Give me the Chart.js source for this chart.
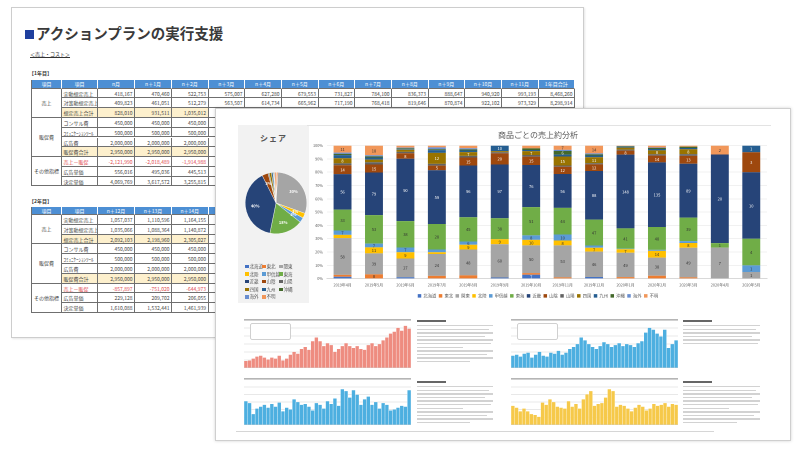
<!DOCTYPE html>
<html lang="ja"><head><meta charset="utf-8">
<script src="https://cdn.jsdelivr.net/npm/chart.js@4.4.1/dist/chart.umd.min.js"></script>
<style>
*{box-sizing:border-box}
html,body{margin:0;padding:0;width:800px;height:449px;overflow:hidden;background:#fff;font-family:"Noto Sans CJK JP","Noto Sans",sans-serif;color:#333}
.abs{position:absolute}
#sheet{left:11px;top:7px;width:573px;height:331px;border:1px solid #cdcdcd;background:#fff;box-shadow:1px 1px 2px rgba(0,0,0,.10)}
#title{left:25px;top:24px;font-size:14.5px;font-weight:bold;color:#3a3a3a;line-height:18px;white-space:nowrap}
#title .sq{display:inline-block;width:9px;height:9px;background:#1f3f9e;margin-right:2px}
.small{position:absolute;font-size:5px;line-height:6px;white-space:nowrap;color:#333}
.cell{position:absolute;font-size:5px;white-space:nowrap;overflow:hidden;border-right:0.6px solid #6f6f6f;border-bottom:0.6px solid #6f6f6f;padding:0 1.5px;color:#444}
.hdr{background:#4d8fd4;color:#fff;text-align:center;border-right-color:#ffffff}
.num{text-align:right}
.sum{background:#fdf0cd}
.red{color:#e0474c}
.grp{text-align:center}
#panel{left:215px;top:108px;width:576px;height:333px;background:#fff;border:1px solid #cfcfcf;box-shadow:0 0 3px rgba(0,0,0,.18);z-index:5}
#pieCard{left:22px;top:16px;width:71px;height:178px;background:#f2f2f2}
#pieTitle{left:0;top:7px;width:71px;text-align:center;font-size:8px;font-weight:bold;color:#555;letter-spacing:1px}
.lg{position:absolute;font-size:4.5px;line-height:5px;white-space:nowrap;color:#595959}
.lg i{display:inline-block;width:3.5px;height:3.5px;margin-right:1px;vertical-align:-0.3px}
.tline{position:absolute;height:1.4px;background:#d2d2d2}
.tline.b{background:#666;height:2px}
</style></head>
<body>
<div id="sheet" class="abs"></div>
<div id="title" class="abs"><span class="sq"></span>アクションプランの実行支援</div>
<div class="small" style="left:30px;top:51px;text-decoration:underline">＜売上・コスト＞</div>
<div class="small" style="left:29px;top:70px;font-weight:bold">【1年目】</div>
<div class="small" style="left:29px;top:198px;font-weight:bold">【2年目】</div>

<div id="panel" class="abs">
  <div id="pieCard" class="abs">
    <div id="pieTitle" class="abs">シェア</div>
    <div class="abs" style="left:6px;top:47px;width:64px;height:62px"><canvas id="pie"></canvas></div>
    <div id="pieLegend" class="abs" style="left:0;top:0;width:71px;height:178px"></div>
  </div>
  <div class="abs" style="left:91px;top:16px;width:464px;height:186px;border-top:0.8px solid #e3e3e3"><canvas id="bar"></canvas></div>
  <div class="abs" style="left:28px;top:210px;width:167px;height:49px"><canvas id="m1"></canvas></div>
  <div class="abs" style="left:295px;top:210px;width:167px;height:49px"><canvas id="m2"></canvas></div>
  <div class="abs" style="left:28px;top:269px;width:167px;height:47px"><canvas id="m3"></canvas></div>
  <div class="abs" style="left:295px;top:269px;width:167px;height:47px"><canvas id="m4"></canvas></div>
  <div class="abs" style="left:20px;top:322px;width:478px;height:0.8px;background:#d6d6d6"></div>
</div>

<script>
const FONT='"Noto Sans CJK JP","Noto Sans",sans-serif';

// ---------- sheet table data ----------
const headers1=['項目','項目','n月','n＋1月','n＋2月','n＋3月','n＋4月','n＋5月','n＋6月','n＋7月','n＋8月','n＋9月','n＋10月','n＋11月','1年目合計'];
const headers2=['項目','項目','n＋12月','n＋13月','n＋14月','n＋15月','n＋16月','n＋17月','n＋18月','n＋19月','n＋20月','n＋21月','n＋22月','n＋23月','2年目合計'];
const groups=[['売上',3],['販促費',4],['その他指標',3]];
const rowLabels=['実動想定売上','対策動想定売上','想定売上合計','コンサル費','ｺﾐｭﾆｹｰｼｮﾝﾂｰﾙ','広告費','販促費合計','売上－販促','広告単価','決定単価'];
const rowKinds=['','','sum','','','','sum','red','',''];
const y1Rows=[
 ['418,167','470,460','522,753','575,007','627,280','679,553','731,827','784,100','836,373','888,647','940,920','993,193','8,468,260'],
 ['409,823','461,051','512,279','563,507','614,734','665,962','717,190','768,418','819,646','870,874','922,102','973,329','8,298,914'],
 ['828,010','931,511','1,035,012'],
 ['450,000','450,000','450,000'],
 ['500,000','500,000','500,000'],
 ['2,000,000','2,000,000','2,000,000'],
 ['2,950,000','2,950,000','2,950,000'],
 ['-2,121,990','-2,018,489','-1,914,988'],
 ['556,016','495,036','445,513'],
 ['4,069,769','3,617,572','3,255,815']];
const y2Rows=[
 ['1,057,037','1,110,596','1,164,155'],
 ['1,035,066','1,088,364','1,140,872'],
 ['2,092,103','2,198,960','2,305,027'],
 ['450,000','450,000','450,000'],
 ['500,000','500,000','500,000'],
 ['2,000,000','2,000,000','2,000,000'],
 ['2,950,000','2,950,000','2,950,000'],
 ['-857,897','-751,020','-644,973'],
 ['229,128','209,702','206,055'],
 ['1,610,088','1,532,441','1,461,939']];

// ---------- chart data ----------
const months=['2019年4月','2019年5月','2019年6月','2019年7月','2019年8月','2019年9月','2019年10月','2019年11月','2019年12月','2020年1月','2020年2月','2020年3月','2020年4月','2020年5月'];
const regions=['北海道','東北','関東','北陸','甲信越','東海','近畿','山陰','山陽','四国','九州','沖縄','海外','不明'];
const hokkaido  =[3,0,2,0,0,2,7,0,3,0,0,0,0,0];
const tohoku    =[3,8,0,3,6,0,3,2,0,3,6,2,0,0];
const kanto     =[58,39,27,24,48,60,50,53,46,49,38,49,7,1];
const hokuriku  =[5,11,9,2,9,9,10,8,7,7,14,8,0,0];
const koshinetsu=[7,7,7,3,6,0,8,10,4,1,2,3,0,1];
const tokai     =[33,53,38,28,45,38,51,44,47,41,48,39,1,4];
const kinki     =[56,79,90,59,96,97,76,56,88,148,135,89,20,10];
const sanin     =[14,15,8,5,15,20,15,12,12,8,14,13,0,3];
const sanyo     =[3,4,2,2,3,2,3,2,2,2,3,3,0,0];
const shikoku   =[8,5,3,12,7,2,7,15,11,4,8,8,0,0];
const kyushu    =[5,4,1,3,3,10,2,3,3,2,3,2,0,1];
const okinawa   =[2,2,1,1,2,0,3,6,2,1,2,2,0,0];
const kaigai    =[2,2,1,2,2,0,0,2,2,0,1,0,0,0];
const fumei     =[11,18,3,2,5,0,5,7,14,1,4,2,2,0];
const pieShare  =[0.3,0.7,29.6,2.6,2.6,17.6,39.6,3.2,0.6,1.2,0.8,0.4,0.4,0.8];

const redSeries   =[15,16,20,24,26,22,18,22,20,26,16,20,28,34,30,40,44,38,56,64,56,46,52,48,34,40,46,52,46,42,46,40,38,48,52,46,50,58,64,72,76,84,78,88,82];
const blueSeriesA =[26,28,24,30,32,22,28,34,26,24,32,30,36,28,32,40,44,50,64,58,50,44,40,46,54,50,44,48,52,46,50,48,44,52,56,74,84,80,72,66,80,42,50,58];
const blueSeriesB =[52,48,24,36,40,44,38,46,40,49,30,38,34,56,50,44,46,40,32,48,44,36,52,46,58,42,78,74,60,76,66,44,56,62,44,50,36,48,44,32,34,38,42,40,76];
const yellowSeries=[42,38,30,36,30,24,22,18,49,44,56,50,40,38,36,52,40,46,36,56,67,74,42,46,48,60,78,74,40,44,42,36,30,38,44,40,32,36,46,42,44,48,40,46,44];

// ---------- styles ----------
const colors=['#4472C4','#ED7D31','#A5A5A5','#FFC000','#5B9BD5','#70AD47','#264478','#9E480E','#636363','#997300','#255E91','#43682B','#698ED0','#F1975A'];
const labelColors=['#fff','#333','#333','#333','#333','#333','#fff','#fff','#fff','#fff','#fff','#fff','#fff','#333'];

// ---------- build tables ----------
const colX=[31,62,98,135,172,208.5,245,282,318.5,355,392,428.5,465,502,538.5,575];
function cell(x,y,w,h,text,cls){
  const d=document.createElement('div');d.className='cell '+(cls||'');
  d.style.left=x+'px';d.style.top=y+'px';d.style.width=w+'px';d.style.height=h+'px';d.style.lineHeight=(h-0.5)+'px';
  d.textContent=text;document.body.appendChild(d);return d;
}
function buildTable(top,headers,rows){
  const hH=8.5,rH=9.8;
  headers.forEach((h,i)=>{const c=cell(colX[i],top,colX[i+1]-colX[i],hH,h,'hdr');if(i===0)c.style.borderLeft='0.6px solid #6f6f6f';});
  let y=top+hH,ri=0;
  groups.forEach(([g,span])=>{
    const c=cell(colX[0],y,colX[1]-colX[0],rH*span,g,'grp');c.style.borderLeft='0.6px solid #6f6f6f';
    for(let k=0;k<span;k++,ri++){
      const kind=rowKinds[ri];
      cell(colX[1],y+k*rH,colX[2]-colX[1],rH,rowLabels[ri],kind);
      for(let j=0;j<13;j++){
        const v=rows[ri][j];
        cell(colX[j+2],y+k*rH,colX[j+3]-colX[j+2],rH,v===undefined?'':v,'num '+(v!==undefined?kind:''));
      }
    }
    y+=rH*span;
  });
}
buildTable(80,headers1,y1Rows);
buildTable(206.5,headers2,y2Rows);

// ---------- pie legend ----------
const pl=document.getElementById('pieLegend');
regions.forEach((r,i)=>{
  const d=document.createElement('div');d.className='lg';
  d.style.left=(7+(i%3)*17)+'px';d.style.top=(139+Math.floor(i/3)*7.6)+'px';
  d.innerHTML='<i style="background:'+colors[i]+'"></i>'+r;pl.appendChild(d);
});

// ---------- main stacked 100% bar ----------
const seriesList=[hokkaido,tohoku,kanto,hokuriku,koshinetsu,tokai,kinki,sanin,sanyo,shikoku,kyushu,okinawa,kaigai,fumei];
const totals=months.map((m,i)=>seriesList.reduce((s,a)=>s+a[i],0));
const datasets=regions.map((r,k)=>({
  label:r,data:seriesList[k].map((v,i)=>v/totals[i]*100),raw:seriesList[k],
  backgroundColor:colors[k],labelColor:labelColors[k],borderWidth:0,barPercentage:0.57,categoryPercentage:1
}));
const segLabels={id:'segLabels',afterDatasetsDraw(chart){
  const ctx=chart.ctx;ctx.save();ctx.font='4px '+FONT;ctx.textAlign='center';ctx.textBaseline='middle';
  chart.data.datasets.forEach((ds,di)=>{
    chart.getDatasetMeta(di).data.forEach((el,i)=>{
      const raw=ds.raw[i];if(!raw)return;
      if(Math.abs(el.base-el.y)<3.2)return;
      ctx.fillStyle=ds.labelColor;ctx.fillText(raw,el.x,(el.y+el.base)/2+0.3);
    });
  });ctx.restore();}};
new Chart(document.getElementById('bar'),{
  type:'bar',data:{labels:months,datasets},
  options:{responsive:true,maintainAspectRatio:false,animation:false,devicePixelRatio:2,
    layout:{padding:{left:2,right:4,top:0,bottom:3}},
    plugins:{
      title:{display:true,text:'商品ごとの売上約分析',color:'#595959',font:{size:8,family:FONT,weight:'normal'},padding:{top:4,bottom:6}},
      legend:{position:'bottom',labels:{boxWidth:3.5,boxHeight:3.5,font:{size:4.3,family:FONT},color:'#595959',padding:2.5}},
      tooltip:{enabled:false}},
    scales:{
      x:{stacked:true,grid:{display:false,drawTicks:false,tickLength:0},border:{color:'#d9d9d9'},ticks:{font:{size:3.8,family:FONT},color:'#595959',maxRotation:0,autoSkip:false,padding:4}},
      y:{stacked:true,min:0,max:100,border:{display:false},grid:{color:'#e3e3e3',lineWidth:0.6,drawTicks:false,tickLength:0},
         ticks:{stepSize:10,callback:v=>v+'%',font:{size:3.8,family:FONT},color:'#595959',padding:4}}
    }},
  plugins:[segLabels]
});

// ---------- pie ----------
const pieLabels={id:'pieLabels',afterDatasetsDraw(chart){
  const ctx=chart.ctx;ctx.save();ctx.font='bold 4px '+FONT;ctx.textAlign='center';ctx.textBaseline='middle';ctx.fillStyle='#fff';
  chart.getDatasetMeta(0).data.forEach((el,i)=>{
    const v=pieShare[i];if(v<2.5)return;
    const a=(el.startAngle+el.endAngle)/2,r=el.outerRadius*0.68;
    ctx.fillText(Math.round(v)+'%',el.x+Math.cos(a)*r,el.y+Math.sin(a)*r);
  });ctx.restore();}};
new Chart(document.getElementById('pie'),{
  type:'pie',data:{labels:regions,datasets:[{data:pieShare,backgroundColor:colors,borderColor:'#fff',borderWidth:0.4}]},
  options:{responsive:true,maintainAspectRatio:false,animation:false,devicePixelRatio:2,layout:{padding:0},
    plugins:{legend:{display:false},tooltip:{enabled:false}}},
  plugins:[pieLabels]
});

// ---------- mini charts ----------
function mini(id,data,color){
  new Chart(document.getElementById(id),{
    type:'bar',data:{labels:data.map((v,i)=>i+1),datasets:[{data,backgroundColor:color,borderColor:'rgba(255,255,255,0.55)',borderWidth:0.5,barPercentage:1,categoryPercentage:1}]},
    options:{responsive:true,maintainAspectRatio:false,animation:false,devicePixelRatio:2,layout:{padding:{top:1,bottom:0}},
      plugins:{legend:{display:false},tooltip:{enabled:false}},
      scales:{x:{grid:{display:false,drawTicks:false,tickLength:0},ticks:{display:false},border:{color:'#cfcfcf'}},
              y:{min:0,max:100,ticks:{display:false,stepSize:16.6},border:{display:false},
                 grid:{drawTicks:false,tickLength:0,color:c=>c.tick.value>=99?'#b5b5b5':'#e0e0e0',lineWidth:c=>c.tick.value>=99?1.6:0.7}}}}
  });
}
mini('m1',redSeries,'#EE8C80');
mini('m2',blueSeriesA,'#4DAFE0');
mini('m3',blueSeriesB,'#4DAFE0');
mini('m4',yellowSeries,'#F6C94A');

// legend boxes on top charts and blurred text blocks
const panel=document.getElementById('panel');
function box(x,y){const d=document.createElement('div');d.className='abs';d.style.cssText='left:'+x+'px;top:'+y+'px;width:41px;height:17px;background:#fff;border:0.8px solid #d0d0d0;border-radius:2px;z-index:3';panel.appendChild(d);}
box(34,214);box(301,214);
const widths=[1,0.95,1,0.9,1,0.97,0.6,1,0.92,1,0.7];
function textBlock(x,y,w,n){
  const t=document.createElement('div');t.className='tline b';t.style.cssText+='left:'+x+'px;top:'+y+'px;width:'+(w*0.38)+'px';panel.appendChild(t);
  for(let i=0;i<n;i++){const d=document.createElement('div');d.className='tline';d.style.left=x+'px';d.style.top=(y+5+i*3.6)+'px';d.style.width=(w*widths[i%widths.length])+'px';panel.appendChild(d);}
}
textBlock(201,211,76,11);
textBlock(467,211,77,6);
textBlock(201,272,76,11);
textBlock(467,272,77,11);
</script>
</body></html>
